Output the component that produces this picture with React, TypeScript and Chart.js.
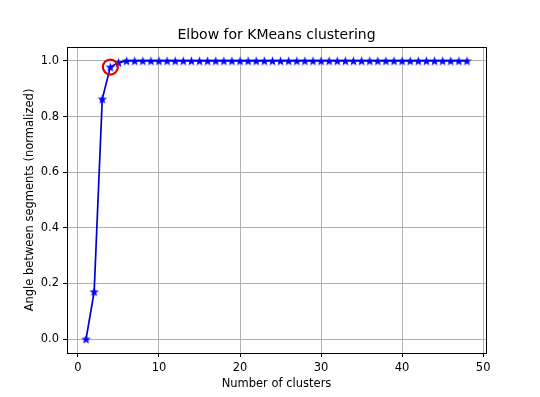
import React, { useEffect, useRef } from "react";
import { Chart, registerables } from "chart.js";

Chart.register(...registerables);

const clusters = [1,2,3,4,5,6,7,8,9,10,11,12,13,14,15,16,17,18,19,20,21,22,23,24,25,26,27,28,29,30,31,32,33,34,35,36,37,38,39,40,41,42,43,44,45,46,47,48];
const angles = [0.0,0.17,0.863,0.978,0.994,1,1,1,1,1,1,1,1,1,1,1,1,1,1,1,1,1,1,1,1,1,1,1,1,1,1,1,1,1,1,1,1,1,1,1,1,1,1,1,1,1,1,1];
const elbowX = [4];
const elbowY = [0.978];
const xTicks = [0, 10, 20, 30, 40, 50];
const yTicks = [0, 0.2, 0.4, 0.6, 0.8, 1.0];

function makeStar(color: string): HTMLCanvasElement {
  const s = 11;
  const c = document.createElement("canvas");
  c.width = s;
  c.height = s;
  const ctx = c.getContext("2d")!;
  const cx = s / 2, cy = s / 2 + 0.4;
  const ro = 5, ri = 2.1;
  ctx.beginPath();
  for (let i = 0; i < 10; i++) {
    const r = i % 2 === 0 ? ro : ri;
    const a = -Math.PI / 2 + (i * Math.PI) / 5;
    const px = cx + r * Math.cos(a);
    const py = cy + r * Math.sin(a);
    if (i === 0) ctx.moveTo(px, py);
    else ctx.lineTo(px, py);
  }
  ctx.closePath();
  ctx.fillStyle = color;
  ctx.fill();
  return c;
}

const boxPlugin = {
  id: "boxPlugin",
  afterDatasetsDraw(chart: any) {
    const { ctx, chartArea } = chart;
    ctx.save();
    ctx.strokeStyle = "#000";
    ctx.lineWidth = 1;
    ctx.strokeRect(
      Math.round(chartArea.left) + 0.5,
      Math.round(chartArea.top) + 0.5,
      Math.round(chartArea.right - chartArea.left),
      Math.round(chartArea.bottom - chartArea.top)
    );
    ctx.restore();
  },
};

export default function App() {
  const ref = useRef<HTMLCanvasElement>(null);
  useEffect(() => {
    document.body.style.margin = "0";
    const font = "'DejaVu Sans', sans-serif";
    const star = makeStar("#0000ff");
    const chart = new Chart(ref.current!, {
      type: "line",
      data: {
        datasets: [
          {
            label: "elbow",
            data: elbowX.map((x, i) => ({ x, y: elbowY[i] })),
            showLine: false,
            pointStyle: "circle",
            pointRadius: 7.5,
            pointBorderWidth: 2.2,
            pointBorderColor: "#e00000",
            pointBackgroundColor: "rgba(0,0,0,0)",
            order: 0,
          },
          {
            label: "angles",
            data: clusters.map((x, i) => ({ x, y: angles[i] })),
            borderColor: "#0000cc",
            borderWidth: 1.7,
            pointStyle: star as any,
            pointRadius: 5,
            tension: 0,
            order: 1,
          },
        ],
      },
      options: {
        animation: false,
        responsive: false,
        layout: { padding: { left: 0, right: 54, top: 0, bottom: 0 } },
        plugins: {
          legend: { display: false },
          tooltip: { enabled: false },
          title: {
            display: true,
            text: "Elbow for KMeans clustering",
            color: "#000",
            fullSize: false,
            font: { family: font, size: 14, weight: "normal" },
            padding: { top: 26.6, bottom: 3.6 },
          },
        },
        scales: {
          x: {
            type: "linear",
            min: -1.35,
            max: 50.35,
            afterBuildTicks: (s: any) => {
              s.ticks = xTicks.map((v) => ({ value: v }));
            },
            afterFit: (s: any) => {
              s.height = 44;
            },
            ticks: {
              color: "#000",
              font: { family: font, size: 11.5 },
              padding: 4,
              maxRotation: 0,
              callback: (v: any) => String(v),
            },
            grid: { color: "#b0b0b0", tickColor: "#000", tickLength: 4, lineWidth: 1 },
            border: { color: "#000" },
            title: {
              display: true,
              text: "Number of clusters",
              color: "#000",
              font: { family: font, size: 11.5 },
              padding: { top: 6, bottom: 6 },
            },
          },
          y: {
            type: "linear",
            min: -0.05,
            max: 1.05,
            afterBuildTicks: (s: any) => {
              s.ticks = yTicks.map((v) => ({ value: v }));
            },
            afterFit: (s: any) => {
              s.width = 67;
            },
            ticks: {
              color: "#000",
              font: { family: font, size: 11.5 },
              padding: 4,
              callback: (v: any) => Number(v).toFixed(1),
            },
            grid: { color: "#b0b0b0", tickColor: "#000", tickLength: 4, lineWidth: 1 },
            border: { color: "#000" },
            title: {
              display: true,
              text: "Angle between segments (normalized)",
              color: "#000",
              font: { family: font, size: 11.5 },
              padding: { top: 23, bottom: 23 },
            },
          },
        },
      },
      plugins: [boxPlugin],
    });
    return () => chart.destroy();
  }, []);
  return (
    <div style={{ width: 540, height: 397, background: "#fff" }}>
      <canvas ref={ref} width={540} height={397} style={{ display: "block" }} />
    </div>
  );
}
